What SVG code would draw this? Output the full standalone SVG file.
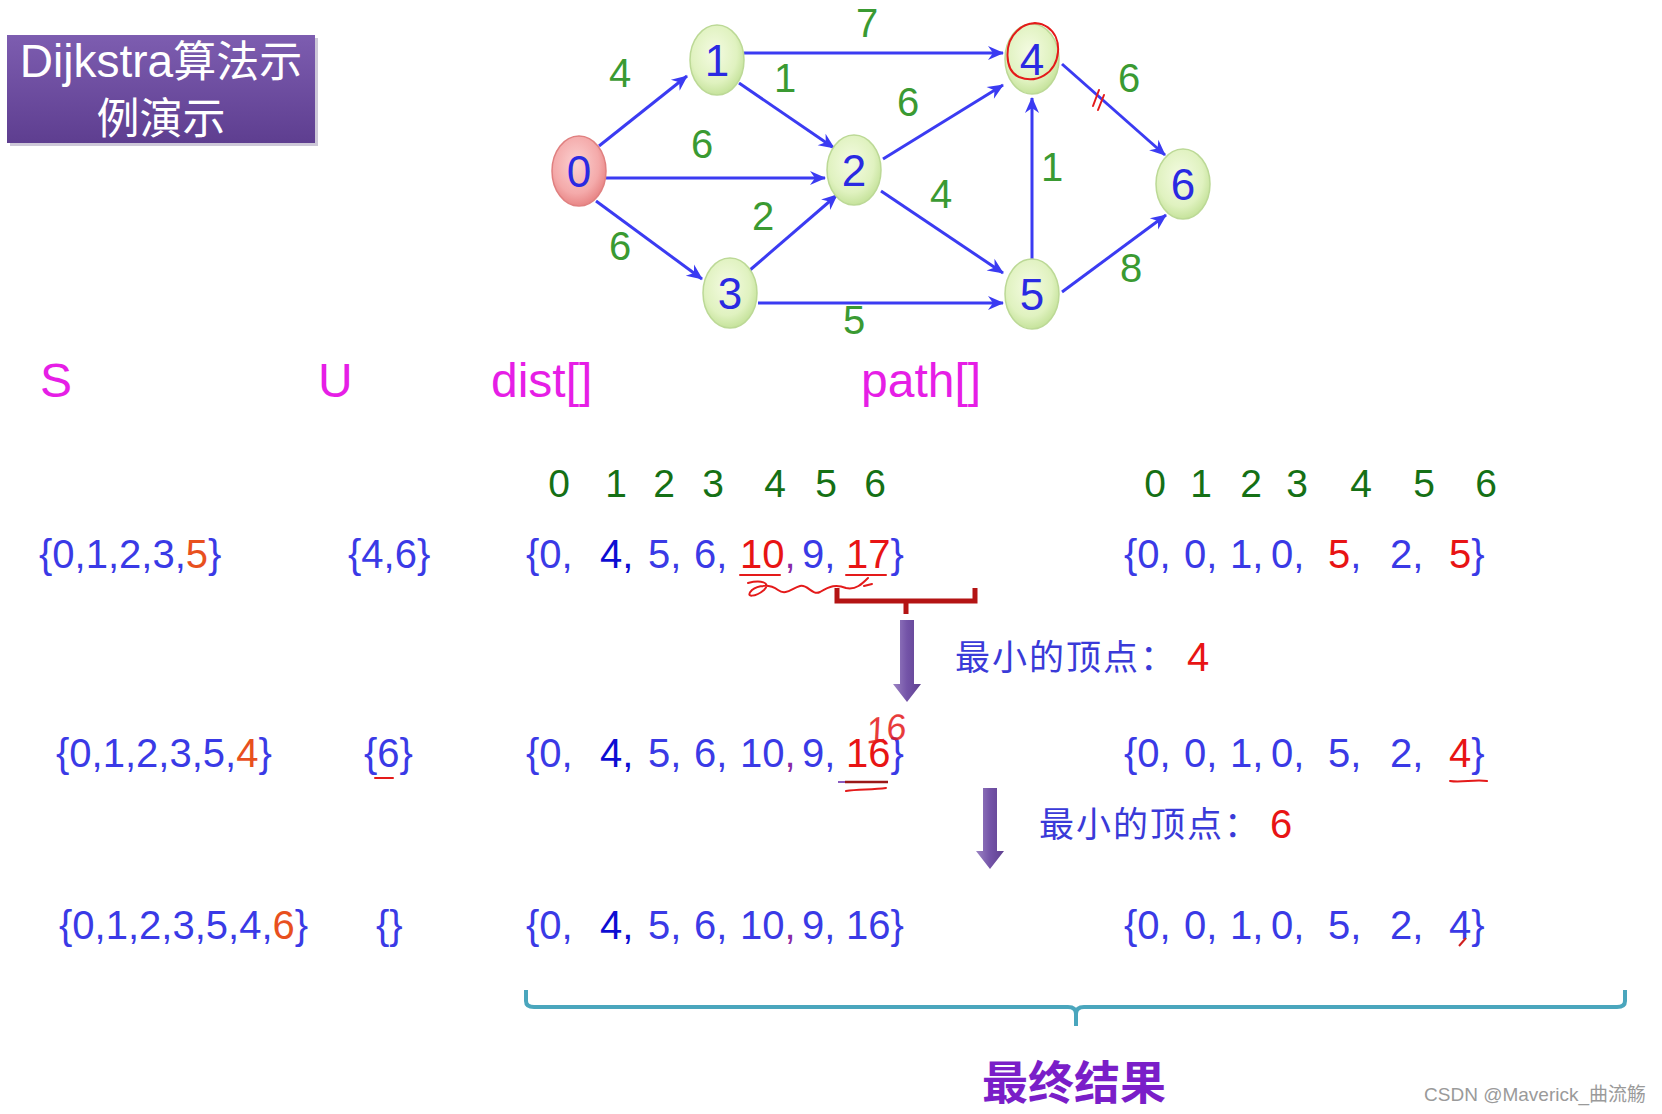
<svg xmlns="http://www.w3.org/2000/svg" width="1662" height="1114" viewBox="0 0 1662 1114">
<defs>
<radialGradient id="gNode" cx="45%" cy="40%" r="60%">
<stop offset="0" stop-color="#f4fbe2"/><stop offset="0.7" stop-color="#e0f2c0"/><stop offset="1" stop-color="#c6e39c"/>
</radialGradient>
<radialGradient id="gStart" cx="45%" cy="40%" r="60%">
<stop offset="0" stop-color="#fbd2d2"/><stop offset="0.7" stop-color="#f4aaaa"/><stop offset="1" stop-color="#e88686"/>
</radialGradient>
<linearGradient id="gTitle" x1="0" y1="0" x2="0" y2="1">
<stop offset="0" stop-color="#7d5db0"/><stop offset="1" stop-color="#5e3e90"/>
</linearGradient>
<linearGradient id="gArrow" x1="0" y1="0" x2="1" y2="0">
<stop offset="0" stop-color="#9c84c4"/><stop offset="0.5" stop-color="#7454a8"/><stop offset="1" stop-color="#5f4090"/>
</linearGradient>
<marker id="ah" markerUnits="userSpaceOnUse" markerWidth="18" markerHeight="16" refX="16" refY="8" orient="auto">
<path d="M1,1 L17,8 L1,15 L6,8 z" fill="#3b3bf2"/>
</marker>
<style>
.edge{stroke:#3b3bf2;stroke-width:3;fill:none;marker-end:url(#ah)}
.node{stroke:#bcd996;stroke-width:1.5}
.nl{font-family:"Liberation Sans",Arial,sans-serif;font-size:44px;fill:#2a2ae2;text-anchor:middle}
.el{font-family:"Liberation Sans",Arial,sans-serif;font-size:40px;fill:#3a9a32;text-anchor:middle}
.hd{font-family:"Liberation Sans",Arial,sans-serif;font-size:48px;fill:#e61ee6}
.ix{font-family:"Liberation Sans",Arial,sans-serif;font-size:39px;fill:#157015;text-anchor:middle}
.row{font-family:"Liberation Sans",Arial,sans-serif;font-size:40px;fill:#3a3ae6}
.or{fill:#e8501e}
.rd{fill:#e81414}
.dk{fill:#0c0cd2}
.pu{fill:#8a2aa8}
.cn{font-family:"Noto Sans CJK SC",sans-serif;font-size:35px;letter-spacing:2px;fill:#3a3ad8}
.mark{stroke:#e41a1a;stroke-width:2;fill:none;stroke-linecap:round}
</style>
</defs>
<rect width="1662" height="1114" fill="#ffffff"/>

<g id="title">
<rect x="10" y="38" width="308" height="108" fill="#b8b0c8" opacity="0.7"/>
<rect x="7" y="35" width="308" height="108" fill="url(#gTitle)"/>
<text x="161" y="77" text-anchor="middle" fill="#ffffff" font-family="Liberation Sans,Arial,'Noto Sans CJK SC',sans-serif"><tspan font-size="46">Dijkstra</tspan><tspan font-family="Noto Sans CJK SC,sans-serif" font-size="43">算法示</tspan></text>
<text x="161" y="134" text-anchor="middle" fill="#ffffff" font-family="Noto Sans CJK SC,sans-serif" font-size="43">例演示</text>
</g>

<g id="edges">
<line class="edge" x1="599" y1="146" x2="687" y2="76"/>
<line class="edge" x1="606" y1="178" x2="825" y2="178"/>
<line class="edge" x1="596" y1="201" x2="702" y2="279"/>
<line class="edge" x1="744" y1="53" x2="1003" y2="53"/>
<line class="edge" x1="739" y1="83" x2="834" y2="148"/>
<line class="edge" x1="750" y1="270" x2="837" y2="195"/>
<line class="edge" x1="883" y1="159" x2="1003" y2="85"/>
<line class="edge" x1="881" y1="191" x2="1003" y2="273"/>
<line class="edge" x1="758" y1="303" x2="1003" y2="303"/>
<line class="edge" x1="1032" y1="260" x2="1032" y2="98"/>
<line class="edge" x1="1062" y1="64" x2="1165" y2="155"/>
<line class="edge" x1="1062" y1="292" x2="1166" y2="215"/>
</g>

<g id="edge-labels">
<text class="el" x="867" y="37" font-size="38">7</text>
<text class="el" x="620" y="87">4</text>
<text class="el" x="785" y="92">1</text>
<text class="el" x="702" y="158">6</text>
<text class="el" x="908" y="116">6</text>
<text class="el" x="1129" y="92">6</text>
<text class="el" x="763" y="230">2</text>
<text class="el" x="620" y="260">6</text>
<text class="el" x="941" y="208">4</text>
<text class="el" x="1052" y="181">1</text>
<text class="el" x="1131" y="282">8</text>
<text class="el" x="854" y="334">5</text>
</g>

<g id="node0"><ellipse cx="579" cy="171" rx="27" ry="35" fill="url(#gStart)" stroke="#e08080" stroke-width="1.5"/><text class="nl" x="579" y="187">0</text></g>
<g id="node1"><ellipse class="node" cx="717" cy="60" rx="27" ry="35" fill="url(#gNode)"/><text class="nl" x="717" y="76">1</text></g>
<g id="node2"><ellipse class="node" cx="854" cy="170" rx="27" ry="35" fill="url(#gNode)"/><text class="nl" x="854" y="186">2</text></g>
<g id="node3"><ellipse class="node" cx="730" cy="293" rx="27" ry="35" fill="url(#gNode)"/><text class="nl" x="730" y="309">3</text></g>
<g id="node4"><ellipse class="node" cx="1032" cy="59" rx="27" ry="35" fill="url(#gNode)"/><text class="nl" x="1032" y="75">4</text></g>
<g id="node5"><ellipse class="node" cx="1032" cy="294" rx="27" ry="35" fill="url(#gNode)"/><text class="nl" x="1032" y="310">5</text></g>
<g id="node6"><ellipse class="node" cx="1183" cy="184" rx="27" ry="35" fill="url(#gNode)"/><text class="nl" x="1183" y="200">6</text></g>

<g id="annotations-graph">
<path class="mark" d="M1022,27 C1040,16 1060,30 1058,52 C1056,74 1036,84 1019,77 C1004,70 1004,43 1017,31 C1024,24 1032,22 1041,24"/>
<line class="mark" x1="1093" y1="106" x2="1099" y2="90"/>
<line class="mark" x1="1098" y1="110" x2="1104" y2="95"/>
</g>

<g id="headers">
<text class="hd" x="40" y="397">S</text>
<text class="hd" x="318" y="397">U</text>
<text class="hd" x="491" y="397">dist[]</text>
<text class="hd" x="861" y="397">path[]</text>
</g>

<g id="index-rows">
<text class="ix" x="559" y="497">0</text><text class="ix" x="616" y="497">1</text><text class="ix" x="664" y="497">2</text><text class="ix" x="713" y="497">3</text><text class="ix" x="775" y="497">4</text><text class="ix" x="826" y="497">5</text><text class="ix" x="875" y="497">6</text>
<text class="ix" x="1155" y="497">0</text><text class="ix" x="1201" y="497">1</text><text class="ix" x="1251" y="497">2</text><text class="ix" x="1297" y="497">3</text><text class="ix" x="1361" y="497">4</text><text class="ix" x="1424" y="497">5</text><text class="ix" x="1486" y="497">6</text>
</g>

<g id="row1">
<text class="row" x="39" y="568">{0,1,2,3,<tspan class="or">5</tspan>}</text>
<text class="row" x="348" y="568">{4,6}</text>
<text class="row" y="568"><tspan x="526">{0,</tspan><tspan x="600" class="dk">4,</tspan><tspan x="648">5,</tspan><tspan x="694">6,</tspan><tspan x="740" class="rd">10</tspan><tspan class="pu">,</tspan><tspan x="802">9,</tspan><tspan x="846" class="rd">17</tspan><tspan>}</tspan></text>
<text class="row" y="568"><tspan x="1124">{0,</tspan><tspan x="1184">0,</tspan><tspan x="1230">1,</tspan><tspan x="1271">0,</tspan><tspan x="1328" class="rd">5</tspan><tspan>,</tspan><tspan x="1390">2,</tspan><tspan x="1449" class="rd">5</tspan><tspan>}</tspan></text>
<line class="mark" x1="740" y1="575" x2="780" y2="575"/>
<line class="mark" x1="846" y1="575" x2="886" y2="575"/>
<path class="mark" stroke-width="1.6" d="M748,583 C760,580 772,582 764,590 C756,597 744,598 752,590 C758,585 770,584 778,590 C786,596 792,588 800,586 C808,584 812,596 820,592 C830,586 836,584 846,588 C856,590 862,584 868,578 M864,586 L872,584"/>
</g>

<g id="bracket-min1">
<path d="M837,588 L837,601 L975,601 L975,588 M906,601 L906,614" fill="none" stroke="#b41414" stroke-width="5"/>
<path d="M900,620 L914,620 L914,684 L921,684 L907,702 L893,684 L900,684 z" fill="url(#gArrow)"/>
<text class="cn" x="955" y="670">最小的顶点：</text>
<text class="row rd" x="1187" y="671" font-size="38">4</text>
</g>

<g id="row2">
<text class="row" x="56" y="767">{0,1,2,3,5,<tspan class="or">4</tspan>}</text>
<text class="row" x="364" y="767">{6}</text>
<line class="mark" x1="375" y1="778" x2="393" y2="778"/>
<text class="row" y="767"><tspan x="526">{0,</tspan><tspan x="600" class="dk">4,</tspan><tspan x="648">5,</tspan><tspan x="694">6,</tspan><tspan x="740">10</tspan><tspan class="pu">,</tspan><tspan x="802">9,</tspan><tspan x="846" class="rd">16</tspan><tspan>}</tspan></text>
<text x="866" y="742" font-family="Liberation Sans,Arial,sans-serif" font-size="36" font-style="italic" fill="#e41a1a" opacity="0.85" transform="rotate(-8 880 730)">16</text>
<line x1="838" y1="782" x2="845" y2="782" stroke="#8a5ac0" stroke-width="2"/>
<line x1="845" y1="782" x2="888" y2="782" stroke="#9a1818" stroke-width="2.5"/>
<path class="mark" d="M846,791 C858,789 872,790 886,788"/>
<text class="row" y="767"><tspan x="1124">{0,</tspan><tspan x="1184">0,</tspan><tspan x="1230">1,</tspan><tspan x="1271">0,</tspan><tspan x="1328">5,</tspan><tspan x="1390">2,</tspan><tspan x="1449" class="rd">4</tspan><tspan>}</tspan></text>
<path class="mark" d="M1450,781 C1462,783 1474,779 1487,781"/>
</g>

<g id="bracket-min2">
<path d="M983,788 L997,788 L997,851 L1004,851 L990,869 L976,851 L983,851 z" fill="url(#gArrow)"/>
<text class="cn" x="1039" y="837">最小的顶点：</text>
<text class="row rd" x="1270" y="838" font-size="38">6</text>
</g>

<g id="row3">
<text class="row" x="59" y="939">{0,1,2,3,5,4,<tspan class="or">6</tspan>}</text>
<text class="row" x="376" y="939">{}</text>
<text class="row" y="939"><tspan x="526">{0,</tspan><tspan x="600" class="dk">4,</tspan><tspan x="648">5,</tspan><tspan x="694">6,</tspan><tspan x="740">10</tspan><tspan class="pu">,</tspan><tspan x="802">9,</tspan><tspan x="846">16</tspan><tspan>}</tspan></text>
<text class="row" y="939"><tspan x="1124">{0,</tspan><tspan x="1184">0,</tspan><tspan x="1230">1,</tspan><tspan x="1271">0,</tspan><tspan x="1328">5,</tspan><tspan x="1390">2,</tspan><tspan x="1449">4</tspan><tspan>}</tspan></text>
<line x1="1459" y1="946" x2="1466" y2="938" stroke="#d02020" stroke-width="2"/>
</g>

<g id="final-bracket">
<path d="M526,990 L526,1001 Q526,1007 534,1007 L1068,1007 Q1076,1007 1076,1014 L1076,1026 M1076,1014 Q1076,1007 1084,1007 L1617,1007 Q1625,1007 1625,1001 L1625,990" fill="none" stroke="#4aa6bd" stroke-width="4"/>
<text x="1074" y="1099" text-anchor="middle" font-family="Noto Sans CJK SC,sans-serif" font-size="46" font-weight="bold" fill="#7a1ec8">最终结果</text>
</g>

<text x="1646" y="1101" text-anchor="end" font-family="Liberation Sans,Arial,'Noto Sans CJK SC',sans-serif" font-size="19" fill="#9a9a9a">CSDN @Maverick_曲流觞</text>
</svg>
